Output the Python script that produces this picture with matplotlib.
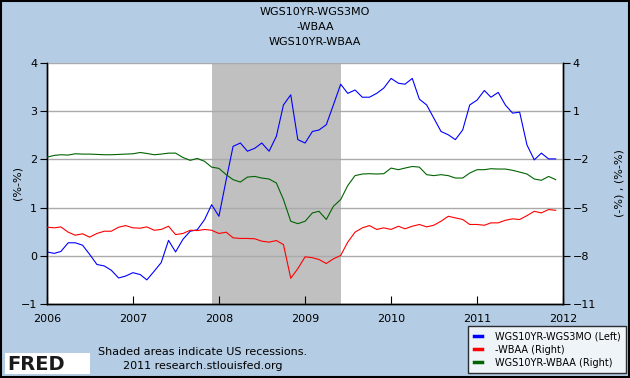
import numpy as np
import pandas as pd
import matplotlib
matplotlib.use("Agg")
import matplotlib.pyplot as plt
import matplotlib.dates as mdates
from matplotlib.patches import Rectangle

# Monthly observations, Jan 2006 .. Dec 2011
dates = pd.date_range("2006-01-01", "2011-12-01", freq="MS")

# WGS10YR-WGS3MO (left axis)
spread_10y_3m = [
    0.08, 0.05, 0.09, 0.27, 0.27, 0.22, 0.03, -0.18, -0.21, -0.30, -0.46, -0.42,
    -0.35, -0.39, -0.50, -0.32, -0.14, 0.32, 0.08, 0.34, 0.51, 0.54, 0.75, 1.06,
    0.82, 1.58, 2.27, 2.34, 2.17, 2.23, 2.34, 2.17, 2.48, 3.13, 3.34, 2.41,
    2.34, 2.58, 2.61, 2.72, 3.13, 3.56, 3.37, 3.44, 3.29, 3.29, 3.37, 3.48,
    3.68, 3.58, 3.56, 3.68, 3.25, 3.13, 2.86, 2.58, 2.51, 2.41, 2.61, 3.13,
    3.23, 3.43, 3.29, 3.39, 3.13, 2.96, 2.98, 2.30, 1.99, 2.13, 2.01, 2.01,
]

# -WBAA (right axis)
neg_baa = [
    -6.22, -6.26, -6.20, -6.53, -6.72, -6.63, -6.84, -6.61, -6.47, -6.47, -6.22, -6.12,
    -6.26, -6.28, -6.20, -6.41, -6.36, -6.16, -6.68, -6.61, -6.41, -6.43, -6.36, -6.41,
    -6.61, -6.53, -6.88, -6.92, -6.92, -6.94, -7.09, -7.15, -7.05, -7.30, -9.40, -8.80,
    -8.06, -8.12, -8.23, -8.48, -8.19, -7.98, -7.15, -6.53, -6.26, -6.12, -6.36, -6.26,
    -6.36, -6.16, -6.32, -6.16, -6.05, -6.20, -6.10, -5.85, -5.54, -5.64, -5.74, -6.05,
    -6.05, -6.10, -5.95, -5.95, -5.79, -5.70, -5.74, -5.50, -5.23, -5.33, -5.12, -5.17,
]

# WGS10YR-WBAA (right axis)
spread_10y_baa = [
    -1.86, -1.75, -1.71, -1.73, -1.65, -1.67, -1.67, -1.69, -1.71, -1.71, -1.69, -1.67,
    -1.65, -1.57, -1.63, -1.71, -1.67, -1.61, -1.61, -1.88, -2.06, -1.94, -2.12, -2.48,
    -2.56, -2.95, -3.26, -3.41, -3.10, -3.06, -3.16, -3.22, -3.47, -4.50, -5.85, -6.00,
    -5.85, -5.33, -5.23, -5.74, -4.92, -4.50, -3.63, -3.01, -2.91, -2.89, -2.91, -2.89,
    -2.54, -2.64, -2.54, -2.44, -2.48, -2.95, -3.01, -2.95, -3.01, -3.16, -3.16, -2.85,
    -2.64, -2.64, -2.58, -2.60, -2.60, -2.68, -2.79, -2.91, -3.22, -3.30, -3.06, -3.26,
]

recession_start = "2007-12-01"
recession_end = "2009-06-01"

bg = "#b4cde4"

fig = plt.figure(figsize=(6.3, 3.78), dpi=100, facecolor=bg)
fig.patches.append(Rectangle((0.001, 0.002), 0.997, 0.996, transform=fig.transFigure,
                             fill=False, edgecolor="black", linewidth=1.5))

ax = fig.add_axes([47 / 630, 1 - 304 / 378, (563 - 47) / 630, (304 - 63) / 378])
ax.set_facecolor("white")
ax.axvspan(pd.Timestamp(recession_start), pd.Timestamp(recession_end),
           color="#c0c0c0", zorder=1, linewidth=0)

ax.set_ylim(-1, 4)
ax.set_yticks([-1, 0, 1, 2, 3, 4])
ax.grid(axis="y", color="#aaaaaa", linewidth=1.0, zorder=2)
ax.set_axisbelow(False)
ax.set_xlim(pd.Timestamp("2006-01-01"), pd.Timestamp("2012-01-01"))
ax.xaxis.set_major_locator(mdates.YearLocator())
ax.xaxis.set_major_formatter(mdates.DateFormatter("%Y"))
ax.tick_params(axis="x", direction="in", length=6, labelsize=8, pad=7)
ax.tick_params(axis="y", direction="out", length=5, labelsize=8, pad=2)
ax.spines["top"].set_visible(False)
ax.set_ylabel("(%-%)", fontsize=8, labelpad=-1)

ax2 = ax.twinx()
ax2.set_ylim(-11, 4)
ax2.set_yticks([4, 1, -2, -5, -8, -11])
ax2.tick_params(axis="y", direction="out", length=5, labelsize=8, pad=2)
ax2.spines["top"].set_visible(False)
ax2.set_ylabel("(-%) , (%-%)", fontsize=8, labelpad=13)

l1, = ax.plot(dates, spread_10y_3m, color="#0000ff", linewidth=0.8, zorder=5)
l2, = ax2.plot(dates, neg_baa, color="#ff0000", linewidth=0.8, zorder=5)
l3, = ax2.plot(dates, spread_10y_baa, color="#006400", linewidth=0.8, zorder=5)

for a in (ax, ax2):
    for s in ("left", "right", "bottom"):
        a.spines[s].set_linewidth(1.0)

# titles
for i, t in enumerate(["WGS10YR-WGS3MO", "-WBAA", "WGS10YR-WBAA"]):
    fig.text(0.5, 1 - (12 + 15 * i) / 378, t, ha="center", va="center", fontsize=8)

# legend
leg = fig.legend([l1, l2, l3],
                 ["WGS10YR-WGS3MO (Left)", "-WBAA (Right)", "WGS10YR-WBAA (Right)"],
                 loc="lower right", bbox_to_anchor=(626 / 630, 1 - 373 / 378),
                 fontsize=7, frameon=True, fancybox=False, handlelength=0.9,
                 handletextpad=1.3, borderpad=0.55, labelspacing=0.3, borderaxespad=0)
leg.get_frame().set_edgecolor("black")
leg.get_frame().set_linewidth(1.0)
for h in leg.get_lines():
    h.set_linewidth(2.5)

# footer
fig.text(203 / 630, 1 - 352 / 378, "Shaded areas indicate US recessions.",
         ha="center", va="center", fontsize=8)
fig.text(203 / 630, 1 - 366 / 378, "2011 research.stlouisfed.org",
         ha="center", va="center", fontsize=8)

fig.patches.append(Rectangle((5 / 630, 1 - 374 / 378), 85 / 630, 21 / 378,
                             transform=fig.transFigure, facecolor="white", edgecolor="none"))
fig.text(7 / 630, 1 - 364 / 378, "FRED", ha="left", va="center", fontsize=14,
         fontweight="bold", color="#1a1a1a")

fig.savefig("out.png", dpi=100, facecolor=bg)
